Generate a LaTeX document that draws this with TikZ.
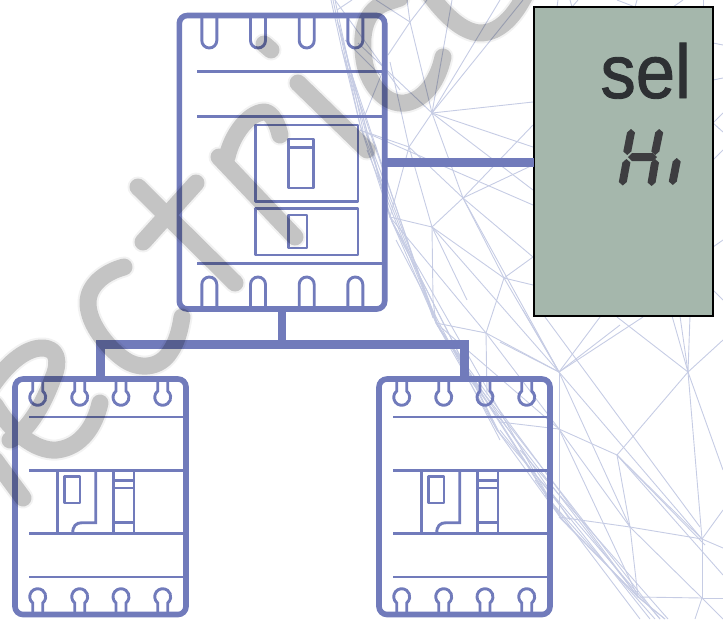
\documentclass[tikz,border=0pt]{standalone}
\usepackage{fontspec}
\setmainfont{Liberation Sans}
\definecolor{brk}{HTML}{717BBB}
\definecolor{meshc}{HTML}{C6CCE4}
\definecolor{lcd}{HTML}{A5B7AC}
\definecolor{seltx}{HTML}{2D3033}
\definecolor{seg}{HTML}{3D3D40}
\tikzset{
  frame/.style={draw=brk,line width=5.6pt,rounded corners=8pt,minimum width=#1,inner sep=0pt,outer sep=0pt},
  thin brk/.style={draw=brk,line width=2.9pt},
  conn/.style={draw=brk,line width=9.5pt,line join=miter},
  meshl/.style={draw=meshc,line width=0.9pt},
  wm/.style={line cap=round,line join=round},
}
\newcommand{\wmstrokes}{
 (-12,392) .. controls (5,365) and (25,348) .. (42,348) .. controls (58,348) and (60,362) .. (53,378) .. controls (45,400) and (30,430) .. (10,440)
 (-5,405) .. controls (10,430) and (35,452) .. (57,450) .. controls (82,447) and (95,425) .. (100,403)
 (-5,460) -- (23,498)
 (124,267) .. controls (105,272) and (88,285) .. (88,303) .. controls (88,325) and (110,350) .. (125,360) .. controls (140,370) and (160,368) .. (170,352) .. controls (177,342) and (180,330) .. (182,317)
 (138,187) -- (235,283)
 (196,183) -- (143,242)
 (219,157) -- (295,237)
 (227,157) .. controls (232,135) and (248,113) .. (264,112) .. controls (272,112) and (278,125) .. (280,135)
 (298,83) -- (367,150)
 (264,44) -- (271,50)
 (443,57) .. controls (438,80) and (425,100) .. (405,103) .. controls (385,105) and (370,85) .. (365,65) .. controls (360,40) and (362,12) .. (385,3) -- (400,-2)
 (430,-5) .. controls (445,15) and (462,32) .. (480,33) .. controls (500,33) and (515,15) .. (525,-5)
}
\newcommand{\hexseg}[4]{% near vertical segment
  \fill[seg] (#1,#2) -- (#1+4,#2+3.5) -- (#3+4,#4-3.5) -- (#3,#4) -- (#3-4,#4-3.5) -- (#1-4,#2+3.5) -- cycle;
}
\newcommand{\lowerparts}{%
  \foreach \yy in {417,470.3,533.3,577}{\draw[thin brk] (29.3,\yy) -- (184,\yy);}
  \foreach \xx in {37.7,79.7,121,162.7}{
    \draw[thin brk] (\xx-5,381) -- (\xx-5,391.06) arc[start angle=231.3,end angle=-51.3,radius=8] -- (\xx+5,381);
    \draw[thin brk] (\xx-5,612) -- (\xx-5,602.94) arc[start angle=128.7,end angle=411.3,radius=8] -- (\xx+5,612);
  }
  \draw[thin brk] (57.3,470.3) -- (57.3,533.3);
  \draw[thin brk,line join=round] (64.5,476.5) rectangle (80,503);
  \draw[thin brk] (95.7,470.3) -- (95.7,522.7) -- (82,522.7) .. controls (76,522.7) and (72.7,526) .. (72.7,533.3);
  \draw[thin brk] (113.3,470.3) -- (113.3,533.3);
  \draw[thin brk] (134,470.3) -- (134,533.3);
  \foreach \yy in {480.3,488,522.7}{\draw[thin brk] (113.3,\yy) -- (134,\yy);}
}
\begin{document}
\begin{tikzpicture}[x=1pt,y=-1pt]
\useasboundingbox (0,0) rectangle (723,619);
% mesh
\foreach \a/\b/\c/\d in {
 331/0/342/50, 342/50/360/125, 360/125/390/217, 390/217/436/323, 436/323/497/430, 497/430/560/517, 560/517/638/597, 638/597/665/619,
 333/0/360/125, 335/0/363/130, 337/20/390/217, 339/25/388/212, 342/50/392/222, 345/60/436/323, 347/60/433/318, 360/125/437/323, 365/130/440/330, 367/150/438/327, 390/217/497/430, 392/222/500/434, 394/225/560/517, 396/240/500/440, 436/323/560/517, 438/325/563/520, 440/330/638/597, 444/335/570/520, 470/380/638/597, 472/378/660/619, 497/430/660/619, 500/430/650/619, 520/450/668/619, 535/480/640/619, 545/495/655/619,
 335/0/400/90, 345/40/380/75, 337/10/352/0,
 410/22/407/0, 410/22/427/0, 410/22/376/0, 410/22/432/113, 388/55/410/22, 358/43/432/113, 390/62/409/147, 382/73/365/115,
 432/113/533/102, 432/113/533/147, 432/113/523/0, 432/113/500/0, 432/113/452/0, 432/113/409/147, 432/113/463/198, 432/113/533/190,
 409/147/390/217, 409/147/360/130, 409/147/463/198, 409/147/432/227,
 463/198/432/227, 463/198/533/125, 463/198/504/278, 463/198/533/257, 463/198/533/165, 360/130/533/205,
 432/227/390/217, 432/227/504/278, 432/227/433/300, 432/227/467/300, 432/227/559/372,
 433/300/436/323, 390/217/486/333,
 504/278/533/257, 504/278/533/285, 504/278/486/333, 504/278/559/372, 463/198/559/372,
 486/333/436/323, 486/333/559/372, 486/333/487/395, 486/333/559/429, 436/323/559/429,
 559/372/600/317, 559/372/643/317, 559/372/620/325, 559/372/500/342, 559/372/523/310, 559/372/559/517, 545/317/700/527, 559/372/702/539, 559/372/630/527,
 688/372/672/316, 688/372/680/316, 688/372/690/316, 688/372/617/317, 688/372/723/340, 688/372/617/455, 688/372/702/539, 688/372/723/470, 500/422/559/429,
 559/429/617/455, 559/429/630/527, 559/429/638/597,
 617/455/630/527, 617/455/702/539, 617/455/705/545, 630/527/638/597, 630/527/559/517, 630/527/702/539, 630/527/702/598,
 702/539/702/598, 702/539/723/510, 702/539/723/548, 638/597/702/598, 702/598/723/598, 702/598/695/619, 702/598/723/619, 559/517/638/597, 638/597/665/619, 617/455/723/575,
 713/43/723/45, 713/80/723/78, 713/123/723/113, 713/123/723/132, 713/160/723/150, 713/247/723/240, 713/290/723/300,
 557/7/558/0, 572/7/578/0, 572/7/570/0, 617/0/635/7, 635/7/637/0, 673/7/683/0, 703/7/703/0}
 {\draw[meshl] (\a,\b) -- (\c,\d);}
% top breaker
\node[frame=205.4pt,minimum height=293.5pt] (topb) at (282,162.25) {};
\foreach \yy in {71.7,116.7,263.3}{\draw[thin brk] (197.3,\yy) -- (382,\yy);}
\foreach \xx in {209.3,258,306.7,355.3}{
  \draw[thin brk] (\xx-7.5,17) -- (\xx-7.5,40.5) arc[start angle=180,end angle=0,radius=7.5] -- (\xx+7.5,17);
  \draw[thin brk] (\xx-7.5,307) -- (\xx-7.5,284.5) arc[start angle=-180,end angle=0,radius=7.5] -- (\xx+7.5,307);
}
\draw[thin brk,line join=round] (255.5,125) rectangle (358,201.5);
\draw[thin brk,line join=round] (255.5,208.5) rectangle (358,255);
\draw[thin brk,line join=round] (288.5,139) rectangle (313.5,188);
\draw[thin brk] (288.5,147.7) -- (313.5,147.7);
\draw[thin brk,line join=round] (288.5,215) rectangle (307,248);
% lower breakers
\node[frame=171pt,minimum height=235.5pt] (lb) at (100.5,379+117.75) {};
\lowerparts
\begin{scope}[shift={(364,0)}]
\node[frame=171pt,minimum height=235.5pt] (rb) at (100.5,379+117.75) {};
\lowerparts
\end{scope}
% display
\node[draw=black,line width=1.1pt,fill=lcd,minimum width=179pt,minimum height=309pt,inner sep=0pt,outer sep=0pt] (disp) at (623.5,161.5) {};
\node[anchor=base east,inner sep=0pt,text=seltx,xscale=0.93] (seltext) at (691,98) {\fontsize{76}{76}\selectfont\addfontfeature{FakeBold=1.2}sel};
\hexseg{631}{129}{627.3}{155}
\hexseg{626.4}{159}{622.8}{185.5}
\hexseg{659.2}{129}{655.3}{155}
\hexseg{655}{159}{651.6}{186}
\hexseg{676.7}{158}{672.8}{185}
\fill[seg] (628,157) -- (632,153.2) -- (653,153.2) -- (657,157) -- (653,161.2) -- (632,161.2) -- cycle;
% connectors
\coordinate (busy) at (282,344.5);
\draw[conn] (lb.north) ++(0,2) -- (lb.north |- busy) -- (rb.north |- busy) -- ([yshift=2pt]rb.north);
\draw[draw=brk,line width=8.5pt] (topb.south) -- (topb.south |- busy);
\draw[conn] (topb.east) -- (topb.east -| disp.west);
% watermark
\begin{scope}[blend mode=multiply]
\draw[wm,draw=black!5,line width=21pt] \wmstrokes;
\draw[wm,draw=black!19,line width=17pt] \wmstrokes;
\end{scope}
\end{tikzpicture}
\end{document}
